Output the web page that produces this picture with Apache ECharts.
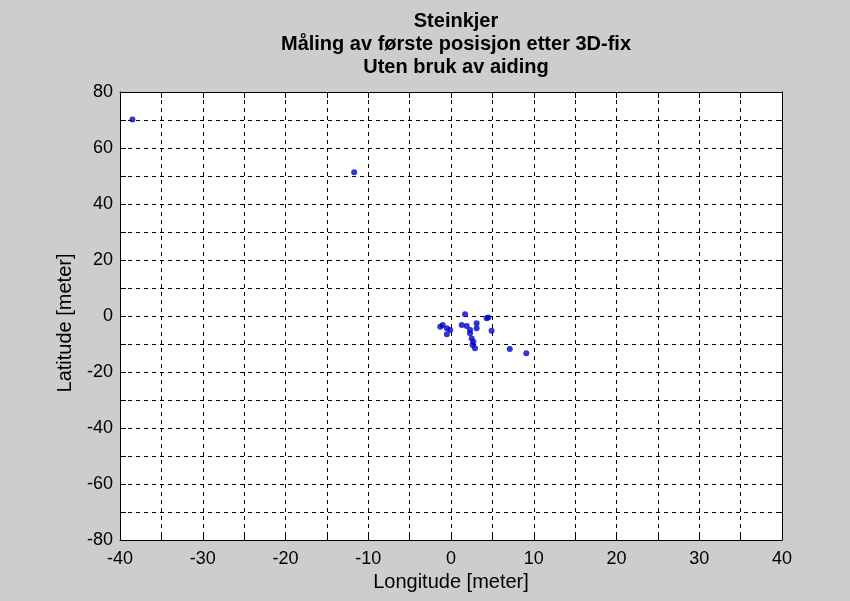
<!DOCTYPE html>
<html>
<head>
<meta charset="utf-8">
<script src="https://cdn.jsdelivr.net/npm/echarts@6/dist/echarts.min.js"></script>
<style>
  html, body { margin: 0; padding: 0; background: #cdcdcd; }
  #chart { width: 850px; height: 601px; }
</style>
</head>
<body>
<div id="chart"></div>
<script>
// posisjoner (meter), lest av bildet
const lonValues = [-38.5, -11.7, 1.7, 4.5, 4.3, -1.0, -1.3, -0.5, -0.1, -0.5, 1.3, 1.9, 3.1, 3.1, 4.9, 2.3, 2.5, 2.7, 2.6, 2.9, 7.1, 9.1, 2.3];
const latValues = [70.2, 51.3, 0.6, -0.5, -0.8, -3.2, -3.8, -4.4, -5.0, -6.5, -3.2, -3.6, -2.6, -4.4, -5.3, -6.2, -8.0, -9.2, -10.4, -11.5, -11.8, -13.3, -5.0];
const titleLines = ['Steinkjer', 'Måling av første posisjon etter 3D-fix', 'Uten bruk av aiding'];

const points = lonValues.map((x, i) => [x, latValues[i]]);

const chart = echarts.init(document.getElementById('chart'));

const font = 'Liberation Sans, Arial, sans-serif';
const gridDash = { color: '#000', width: 1, type: [4, 4] };
const frame = { show: true, onZero: false, lineStyle: { color: '#000', width: 1 } };
const ticks = { show: true, inside: true, length: 6, lineStyle: { color: '#000' } };

const option = {
  backgroundColor: '#cdcdcd',
  animation: false,
  title: {
    text: titleLines.join('\n'),
    left: 451,
    top: 5,
    textAlign: 'center',
    textStyle: { fontFamily: font, fontSize: 20, fontWeight: 'bold', color: '#000', lineHeight: 23 }
  },
  grid: { left: 120, right: 68, top: 92, bottom: 61, show: true, backgroundColor: '#fff', borderWidth: 0 },
  xAxis: [
    {
      type: 'value', position: 'bottom', min: -40, max: 40, interval: 5,
      name: 'Longitude [meter]', nameLocation: 'middle', nameGap: 30,
      nameTextStyle: { fontFamily: font, fontSize: 20, color: '#000' },
      axisLine: frame,
      axisTick: ticks,
      axisLabel: {
        fontFamily: font, fontSize: 18, color: '#000', margin: 10,
        formatter: v => (v % 10 === 0 ? String(v) : '')
      },
      splitLine: { show: true, lineStyle: gridDash }
    },
    {
      type: 'value', position: 'top', min: -40, max: 40, interval: 5,
      axisLine: frame,
      axisTick: ticks,
      axisLabel: { show: false },
      splitLine: { show: false }
    }
  ],
  yAxis: [
    {
      type: 'value', position: 'left', min: -80, max: 80, interval: 10,
      name: 'Latitude [meter]', nameLocation: 'middle', nameGap: 45,
      nameTextStyle: { fontFamily: font, fontSize: 20, color: '#000', padding: [0, 14, 0, 0] },
      axisLine: frame,
      axisTick: ticks,
      axisLabel: {
        fontFamily: font, fontSize: 18, color: '#000', margin: 7,
        formatter: v => (v % 20 === 0 ? String(v) : '')
      },
      splitLine: { show: true, lineStyle: gridDash }
    },
    {
      type: 'value', position: 'right', min: -80, max: 80, interval: 10,
      axisLine: frame,
      axisTick: ticks,
      axisLabel: { show: false },
      splitLine: { show: false }
    }
  ],
  series: [
    {
      type: 'scatter',
      xAxisIndex: 0,
      yAxisIndex: 0,
      data: points,
      symbol: 'circle',
      symbolSize: 6,
      itemStyle: { color: '#0000cc' }
    }
  ]
};

chart.setOption(option);
</script>
</body>
</html>
